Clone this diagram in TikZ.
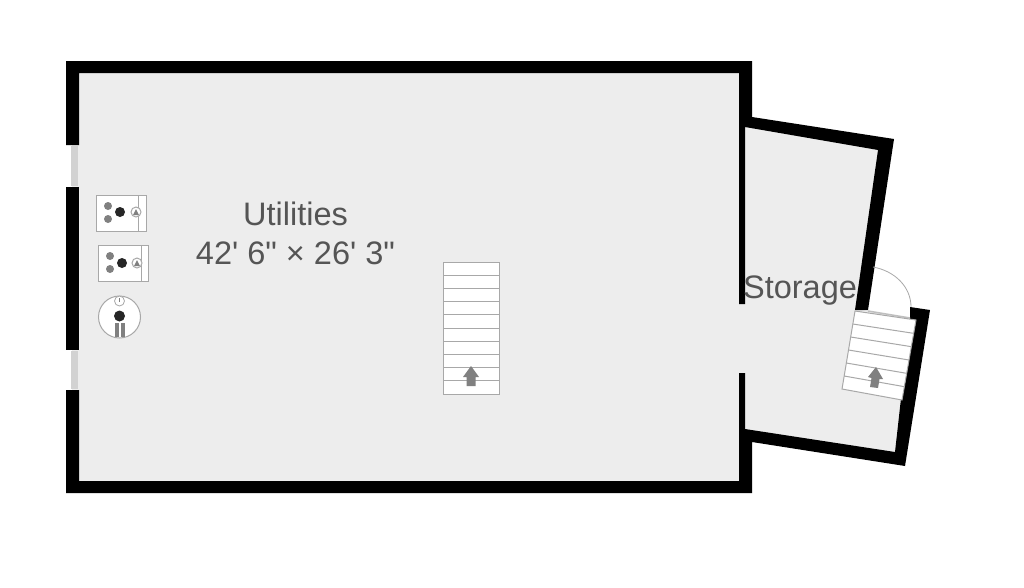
\documentclass[tikz,border=0pt]{standalone}
\usepackage{fontspec}
\usetikzlibrary{calc}
\newfontfamily\labfont{Liberation Sans}
\definecolor{floorgray}{HTML}{EDEDED}
\definecolor{fixline}{HTML}{A8A8A8}
\definecolor{labelgray}{HTML}{555555}
\definecolor{dotgray}{HTML}{808080}
\tikzset{
  x=1pt,y=-1pt,
  wall/.style={fill=black,draw=none},
  floorarea/.style={fill=floorgray,draw=none},
  fixture/.style={draw=fixline,line width=1pt},
  glass/.style={fill=lightgray!70,draw=none},
  label/.style={text=labelgray,font=\labfont\fontsize{32.5}{39}\selectfont,align=center,inner sep=0pt},
  darrow/.style={fill=dotgray,draw=none}
}
\begin{document}
\begin{tikzpicture}
\useasboundingbox (0,0) rectangle (1024,587);
\fill[white] (0,0) rectangle (1024,587);
% floors
\fill[floorarea] (72,67) rectangle (745,487);
\fill[floorarea] (745,122) -- (885,145) -- (861,310) -- (916,320) -- (900,459) -- (745,435) -- cycle;
% walls
\fill[wall] (66,61) -- (752,61) -- (752,117) -- (894,139) -- (868,310) -- (855,310) -- (878,150) -- (745,127) -- (745,304) -- (739,304) -- (739,73) -- (79,73) -- (79,145) -- (66,145) -- cycle;
\fill[wall] (66,187) -- (79,187) -- (79,350) -- (66,350) -- cycle;
\fill[wall] (66,390) -- (79,390) -- (79,481) -- (739,481) -- (739,373) -- (745,373) -- (745,429) -- (895,452) -- (910,318) -- (910,307) -- (930,310) -- (905,466) -- (752,442) -- (752,493) -- (66,493) -- cycle;
% windows
\fill[glass] (71,146) rectangle (78,186);
\fill[glass] (71,351) rectangle (78,389);
% door
\draw[fixline,line width=0.8pt] (873,267) .. controls (895,271) and (911,287) .. (911,307);
\draw[lightgray,line width=1.5pt] (868,311) -- (910,318);
% main stairs
\draw[fixture,fill=white] (443,262) rectangle (499,394);
\foreach \i in {1,...,9} \draw[fixture] (443,262+13.2*\i) -- (499,262+13.2*\i);
\fill[darrow] (471,366) -- (479,377) -- (475.5,377) -- (475.5,386) -- (466.5,386) -- (466.5,377) -- (463,377) -- cycle;
% storage stairs
\draw[fixture,fill=white] (855,311) -- (916,320) -- (902,400) -- (842,389) -- cycle;
\foreach \t in {1,...,5} \draw[fixture] ($(855,311)!\t/6!(842,389)$) -- ($(916,320)!\t/6!(902,400)$);
\fill[darrow] (876,367) -- (883,379) -- (879.5,379) -- (878,388) -- (870,387) -- (871.5,378) -- (868,377) -- cycle;
% units
\draw[fixture,fill=white] (96,195) rectangle (146,231);
\draw[fixture] (138,195) -- (138,231);
\fill[dotgray] (108,206) circle[radius=4];
\fill[dotgray] (108,219) circle[radius=4];
\fill[black!85] (120,212) circle[radius=5];
\draw[fixture,fill=white] (136,212) circle[radius=5];
\fill[dotgray] (136,209) -- (139,215) -- (133,215) -- cycle;
\draw[fixture,fill=white] (98,245) rectangle (148,281);
\draw[fixture] (141,245) -- (141,281);
\fill[dotgray] (110,256) circle[radius=4];
\fill[dotgray] (110,269) circle[radius=4];
\fill[black!85] (122,263) circle[radius=5];
\draw[fixture,fill=white] (137,263) circle[radius=5];
\fill[dotgray] (137,260) -- (140,266) -- (134,266) -- cycle;
% round unit
\draw[fixture,fill=white] (119.5,317) circle[radius=21];
\draw[fixture,line width=0.8pt,fill=white] (119.5,301) circle[radius=5];
\draw[dotgray,line width=0.8pt] (119.5,298) -- (119.5,302);
\fill[black!85] (119.5,316) circle[radius=5.5];
\fill[dotgray] (114.5,323) rectangle (118.5,337);
\fill[dotgray] (120.5,323) rectangle (124.5,337);
% labels
\node[label] (utilities) at (295.5,233.5) {Utilities\\42' 6" × 26' 3"};
\node[label] (storage) at (800,291) {Storage};
\end{tikzpicture}
\end{document}
